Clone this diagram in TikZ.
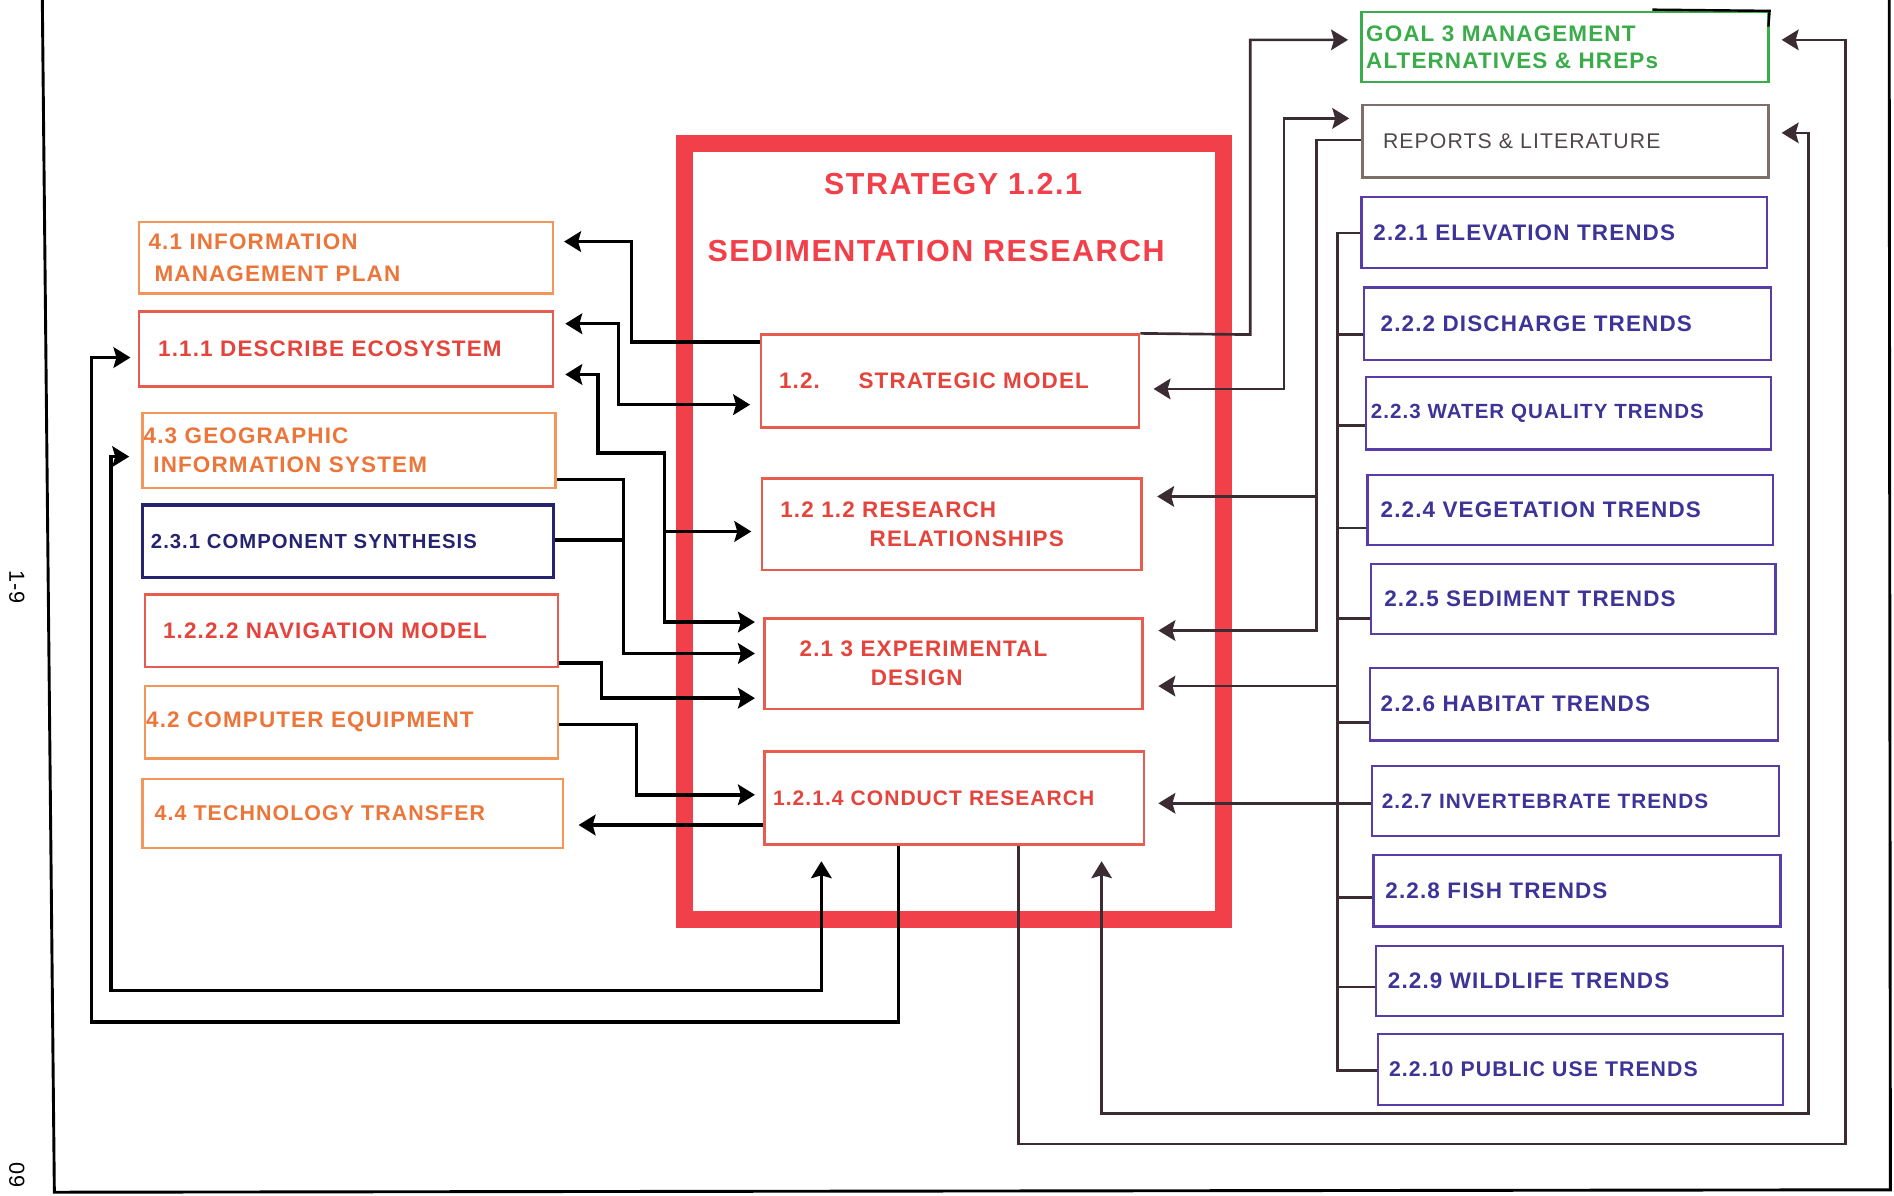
\documentclass[tikz,border=0pt]{standalone}
\usepackage{fontspec}
\setmainfont{Liberation Sans}[LetterSpace=5]
\usetikzlibrary{arrows.meta,calc}
\definecolor{orng}{RGB}{236,118,58}
\definecolor{orngb}{RGB}{242,150,90}
\definecolor{rd}{RGB}{228,68,60}
\definecolor{rdb}{RGB}{232,92,80}
\definecolor{frm}{RGB}{242,64,74}
\definecolor{pur}{RGB}{62,52,152}
\definecolor{purb}{RGB}{88,60,168}
\definecolor{nvy}{RGB}{38,36,112}
\definecolor{grn}{RGB}{58,172,74}
\definecolor{rep}{RGB}{80,72,72}
\definecolor{repb}{RGB}{125,110,105}
\definecolor{cnr}{RGB}{58,44,50}
\newcommand{\mkbox}[8]{%
  \pgfmathsetmacro{\mbw}{(#4-#2)*0.5}%
  \pgfmathsetmacro{\mbh}{(#5-#3)*0.5}%
  \pgfmathsetmacro{\mbi}{#6*0.5}%
  \pgfmathsetmacro{\mbt}{\mbw-2*\mbi}%
  \pgfmathsetmacro{\mbx}{(#2+#4)/2}%
  \pgfmathsetmacro{\mby}{(#3+#5)/2}%
  \node[#7, minimum height=\mbh pt, inner xsep=\mbi pt, text width=\mbt pt] (#1) at (\mbx,\mby) {#8};%
}
\tikzset{
  bxs/.style={draw, line width=1pt, inner ysep=0pt, align=left, font=\bfseries\fontsize{9.3}{12}\selectfont},
  orb/.style={bxs, draw=orngb, text=orng},
  rdbx/.style={bxs, draw=rdb, text=rd},
  pubx/.style={bxs, draw=purb, text=pur},
  nvbx/.style={bxs, draw=nvy, line width=1.4pt, text=nvy, font=\bfseries\fontsize{8.4}{12}\selectfont},
  grbx/.style={bxs, draw=grn, text=grn, font=\bfseries\fontsize{9.3}{11}\selectfont},
  repbx/.style={bxs, draw=repb, text=rep, font=\fontsize{8.8}{12}\selectfont},
  ttl/.style={text=frm, font=\bfseries\fontsize{12.6}{14}\selectfont, inner sep=0pt},
  lk/.style={line width=1.4pt, draw=black},
  rk/.style={line width=1.1pt, draw=cnr},
  ar/.style={-{Stealth[length=7pt,width=8.5pt,inset=1.2pt]}},
  arr/.style={{Stealth[length=7pt,width=8.5pt,inset=1.2pt]}-{Stealth[length=7pt,width=8.5pt,inset=1.2pt]}},
}
\begin{document}
\begin{tikzpicture}[x=0.5pt,y=-0.5pt]
\useasboundingbox (0,0) rectangle (1568,990);
\fill[white] (0,0) rectangle (1568,990);
% page frame
\draw[line width=1.2pt] (35,-4) -- (45,987) -- (1565,985) -- (1564,-4);
\node[rotate=-90, font=\fontsize{9}{9}\selectfont, inner sep=0pt] (pg) at (14,486) {1-9};
\node[rotate=-90, anchor=east, font=\fontsize{9}{9}\selectfont, inner sep=0pt] (code) at (14,984) {09};
% central frame
\node[draw=frm, line width=7pt, minimum width=223pt, minimum height=321pt, inner sep=0pt] (frame) at (790,440) {};
\node[ttl] (t1) at (789,152) {STRATEGY 1.2.1};
\node[ttl] (t2) at (775,208) {SEDIMENTATION RESEARCH};
% left boxes
\mkbox{L41}{115}{184}{458}{243}{8}{orb,font=\bfseries\fontsize{9.3}{13}\selectfont}{4.1 INFORMATION\\\hspace*{2.5pt}MANAGEMENT PLAN}
\mkbox{L111}{115}{258}{458}{320}{16}{rdbx}{1.1.1 DESCRIBE ECOSYSTEM}
\mkbox{L43}{118}{342}{460}{404}{1}{orb}{4.3 GEOGRAPHIC\\\hspace*{4pt}INFORMATION SYSTEM}
\mkbox{L231}{118}{418}{458}{478}{7}{nvbx}{2.3.1 COMPONENT SYNTHESIS}
\mkbox{LNav}{120}{492}{462}{552}{15}{rdbx}{1.2.2.2 NAVIGATION MODEL}
\mkbox{LComp}{120}{568}{462}{628}{1}{orb}{4.2 COMPUTER EQUIPMENT}
\mkbox{LTech}{118}{645}{466}{702}{10}{orb,font=\bfseries\fontsize{8.85}{12}\selectfont}{4.4 TECHNOLOGY TRANSFER}
% centre boxes
\mkbox{A}{630}{277}{943}{354}{15}{rdbx}{1.2.\hspace*{16pt}STRATEGIC MODEL}
\mkbox{B}{631}{396}{945}{472}{15}{rdbx}{1.2 1.2 RESEARCH\\\hspace*{37pt}RELATIONSHIPS}
\mkbox{C}{633}{512}{946}{587}{29}{rdbx}{2.1 3 EXPERIMENTAL\\\hspace*{29.5pt}DESIGN}
\mkbox{D}{633}{622}{947}{699}{7}{rdbx,font=\bfseries\fontsize{8.7}{12}\selectfont}{1.2.1.4 CONDUCT RESEARCH}
% right boxes
\mkbox{G}{1127}{10}{1464}{68}{4}{grbx}{GOAL 3 MANAGEMENT\\ALTERNATIVES \& HREPs}
\mkbox{R}{1128}{87}{1464}{147}{17}{repbx}{REPORTS \& LITERATURE}
\mkbox{T1}{1127}{163}{1463}{222}{10}{pubx}{2.2.1 ELEVATION TRENDS}
\mkbox{T2}{1129}{238}{1466}{298}{14}{pubx}{2.2.2 DISCHARGE TRENDS}
\mkbox{T3}{1131}{312}{1466}{372}{4}{pubx,font=\bfseries\fontsize{8.5}{12}\selectfont}{2.2.3 WATER QUALITY TRENDS}
\mkbox{T4}{1132}{393}{1468}{451}{11}{pubx}{2.2.4 VEGETATION TRENDS}
\mkbox{T5}{1135}{467}{1470}{525}{11}{pubx}{2.2.5 SEDIMENT TRENDS}
\mkbox{T6}{1134}{553}{1472}{613}{9}{pubx}{2.2.6 HABITAT TRENDS}
\mkbox{T7}{1136}{634}{1473}{692}{8}{pubx,font=\bfseries\fontsize{8.6}{12}\selectfont}{2.2.7 INVERTEBRATE TRENDS}
\mkbox{T8}{1137}{708}{1474}{767}{10}{pubx}{2.2.8 FISH TRENDS}
\mkbox{T9}{1139}{783}{1476}{841}{10}{pubx}{2.2.9 WILDLIFE TRENDS}
\mkbox{T10}{1141}{856}{1476}{915}{9}{pubx,font=\bfseries\fontsize{8.8}{12}\selectfont}{2.2.10 PUBLIC USE TRENDS}
\draw[line width=1pt] (1368,8) -- (G.north east) -- (1464,22);
% left connectors
\draw[lk,ar,shorten >=4pt] (A.west |- 0,283) -- (523,283) -- (523,200) -- (L41.east |- 0,200);
\draw[lk,arr,shorten <=4.5pt,shorten >=4pt] (L111.east |- 0,268) -- (512,268) -- (512,335) -- (A.west |- 0,335);
\draw[lk,arr,shorten <=4.5pt,shorten >=3.5pt] (L111.east |- 0,310) -- (495,310) -- (495,375) -- (550,375) -- (550,515) -- (C.west |- 0,515);
\draw[lk,ar,shorten >=4pt] (550,440) -- (B.west |- 0,440);
\draw[lk,ar,shorten >=3.5pt] (L43.east |- 0,397) -- (516,397) -- (516,541) -- (C.west |- 0,541);
\draw[lk] (L231.east |- 0,447) -- (516,447);
\draw[lk,ar,shorten >=3.5pt] (LNav.east |- 0,549) -- (498,549) -- (498,578) -- (C.west |- 0,578);
\draw[lk,ar,shorten >=3.5pt] (LComp.east |- 0,600) -- (527,600) -- (527,658) -- (D.west |- 0,658);
\draw[lk,ar,shorten >=6pt] (D.west |- 0,683) -- (LTech.east |- 0,683);
\draw[lk,ar,shorten >=3pt] (D.south -| 744,0) -- (744,846) -- (76,846) -- (76,296) -- (L111.west |- 0,296);
\draw[lk,arr,shorten <=5pt,shorten >=6.5pt] (L43.west |- 0,378) -- (92,378) -- (92,820) -- (680,820) -- (D.south -| 680,0);
% right connectors
\draw[rk,ar,shorten >=5pt] (A.north east) -- (1035,277) -- (1035,33) -- (G.west |- 0,33);
\draw[rk,arr,shorten <=5.5pt,shorten >=5pt] (A.east |- 0,322) -- (1063,322) -- (1063,98) -- (R.west |- 0,98);
\draw[rk,ar,shorten >=6pt] (R.west |- 0,116) -- (1090,116) -- (1090,522) -- (C.east |- 0,522);
\draw[rk,ar,shorten >=6pt] (1090,411) -- (B.east |- 0,411);
\draw[rk] (T1.west |- 0,193) -- (1107,193) -- (1107,886) -- (T10.west |- 0,886);
\foreach \n/\yy in {T2/277,T3/352,T4/437,T5/512,T6/598,T7/665,T8/743,T9/817}
  \draw[rk] (1107,\yy) -- (\n.west |- 0,\yy);
\draw[rk,ar,shorten >=6pt] (1107,568) -- (C.east |- 0,568);
\draw[rk,ar,shorten >=5.5pt] (1107,665) -- (D.east |- 0,665);
\draw[rk,ar,shorten >=5pt] (D.south -| 843,0) -- (843,947) -- (1528,947) -- (1528,33) -- (G.east |- 0,33);
\draw[rk,arr,shorten <=6.5pt,shorten >=5pt] (D.south -| 912,0) -- (912,922) -- (1497,922) -- (1497,110) -- (R.east |- 0,110);
\end{tikzpicture}
\end{document}
